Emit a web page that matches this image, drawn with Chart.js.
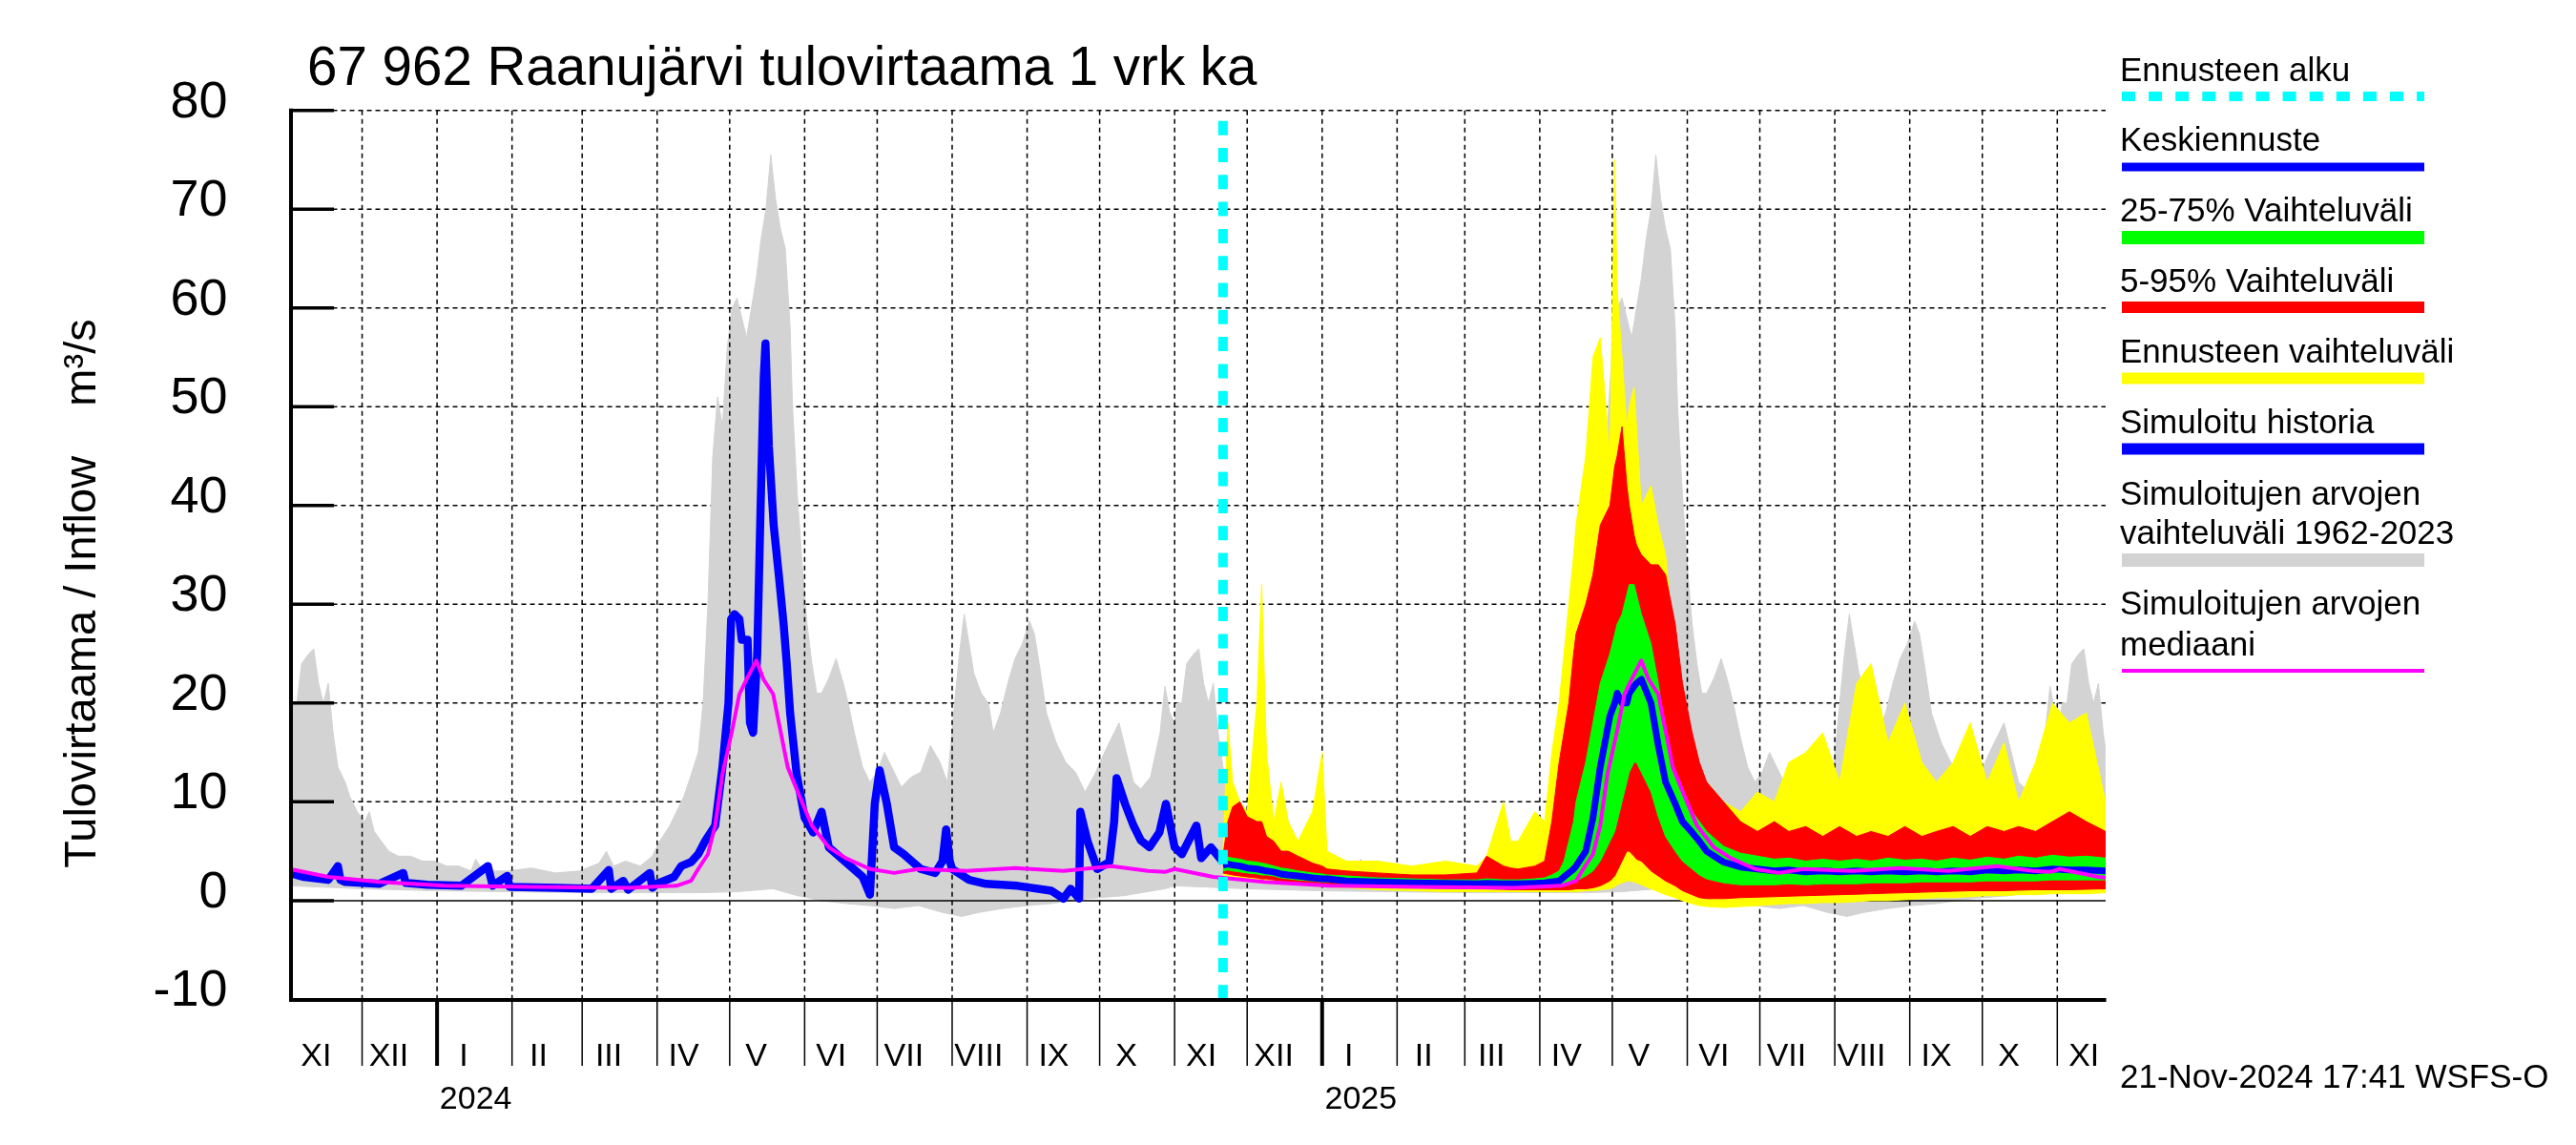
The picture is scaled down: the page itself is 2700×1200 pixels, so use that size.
<!DOCTYPE html>
<html>
<head>
<meta charset="utf-8">
<script src="https://cdn.jsdelivr.net/npm/chart.js@4.4.1/dist/chart.umd.min.js"></script>
<style>
html,body{margin:0;padding:0;background:#fff;overflow:hidden}
canvas{display:block}
</style>
</head>
<body>
<canvas id="c" width="2700" height="1200" style="width:2700px;height:1200px"></canvas>
<script>
// ---------- text ----------
const TITLE = '67 962 Raanujärvi tulovirtaama 1 vrk ka';
const Y_TITLE = 'Tulovirtaama / Inflow    m³/s';
const STAMP = '21-Nov-2024 17:41 WSFS-O';
const LEGEND_LABELS = [['Ennusteen alku'], ['Keskiennuste'], ['25-75% Vaihteluväli'], ['5-95% Vaihteluväli'],
  ['Ennusteen vaihteluväli'], ['Simuloitu historia'], ['Simuloitujen arvojen', 'vaihteluväli 1962-2023'],
  ['Simuloitujen arvojen', 'mediaani']];

// ---------- axes (x = days since 1 Nov 2023) ----------
const X_MIN = 0, X_MAX = 751;            // 1 Nov 2023 .. 21 Nov 2025
const Y_MIN = -10, Y_MAX = 80, Y_STEP = 10;
const MONTH_STARTS = [0,30,61,92,121,152,182,213,243,274,305,335,366,396,427,458,486,517,547,578,608,639,670,700,731];
const MONTH_LABELS = ['XI','XII','I','II','III','IV','V','VI','VII','VIII','IX','X','XI','XII','I','II','III','IV','V','VI','VII','VIII','IX','X','XI'];
const YEAR_STARTS = [61, 427];
const YEAR_LABELS = ['2024', '2025'];
const FORECAST_START = 386;               // 21 Nov 2024
const CLIM_REPEAT = [0, 366, 732];        // climatology by day since 1 Nov, repeated per year

// ---------- climatology 1962-2023 (day since 1 Nov) ----------
const CLIM_MAX_DAY = [0,1,3,5,8,10,12,14,16,18,20,23,25,28,31,33,35,38,41,45,50,55,60,65,70,75,77,80,90,100,110,120,128,131,134,139,145,150,153,157,160,163,166,169,171,173,175,177,179,181,183,185,187,189,191,193,195,197,199,201,203,205,207,208,210,212,214,216,218,220,223,226,229,231,234,237,240,243,246,249,253,257,261,265,269,272,275,277,279,281,283,286,289,291,294,297,300,303,306,308,310,313,317,321,325,329,333,337,341,343,346,349,352,356,360,362,364];
const CLIM_MAX = [18,20,20,24,25,25.5,22,20,22,17,13.5,12,10.5,9,8,9,7,6,5,4.5,4.5,4,4,3.5,3.5,3,4.2,3,3,3.3,2.8,3,3.8,5,3.5,4,3.5,4.5,6,7.5,9,10.5,12.7,15,20,30,45,51,48,56,60,61,59,57,60,63,67,70,75.5,71,68,66,58,50,41,34,28,24,21,21,22.5,24.5,22,20,16.5,13.5,12,13,15,13.5,11.5,12.5,13,15.7,14,12,20,25,29,26,23,21,20,17,19,22,24.5,26,28.3,27,24,19,16,14,13,11,12.8,15,17,18,15,12,11.3,12.5,17,21.7,19];
const CLIM_MIN_DAY = [0,30,60,90,120,150,170,185,200,210,220,230,240,250,260,270,278,285,295,305,315,330,345,362];
const CLIM_MIN = [1.5,1.2,1.0,0.9,0.8,0.8,0.8,0.9,1.2,0.5,0,-0.3,-0.5,-0.8,-0.5,-1.2,-1.6,-1.2,-0.8,-0.5,-0.3,0.2,0.5,1.2];
const CLIM_MED_DAY = [0,16,37,64,100,140,160,166,169,173,176,179,183,186,189,193,196,200,203,206,211,216,223,230,240,250,260,280,300,320,340,355,362];
const CLIM_MED = [3.2,2.4,1.9,1.5,1.4,1.3,1.5,2,3.2,4.7,7.6,12.8,17.2,20.9,22.4,24.3,22.4,20.9,17.2,13.5,10.5,7.6,5.4,4.3,3.2,2.8,3.2,3.0,3.3,3.0,3.5,3.0,2.9];

// ---------- simulated history ----------
const HIST_DAY = [0,6,16,20,21,23,37,47,48,57,71,82,84,90,91,111,125,132,133,138,140,149,150,152,159,162,166,169,172,176,179,181.5,182.6,184,186,187,189.4,190.4,191.7,193.4,194.8,196.1,196.8,198.2,200.2,202.3,204.3,205.6,207,209.7,213,216.5,220,223,230,237,240,242,244,247,250,254,261,267,270,271.5,273,274,281,288,301,315,320,323,326.5,327,330,334,339,341,342,345.5,349,352,355.6,359.7,362.4,366,369,375,377,381,386];
const HIST = [2.8,2.4,2.1,3.5,2.1,1.9,1.7,2.8,1.8,1.6,1.5,3.5,1.5,2.5,1.4,1.3,1.2,3.1,1.2,2,1.1,2.8,1.3,1.7,2.4,3.5,3.9,4.7,6.1,7.6,13.5,20,28.5,29,28.5,26.4,26.4,18,17,25,40,53,56.4,46,38,33,28,24,19,12.8,8.4,6.9,9,5.4,3.9,2.4,0.6,9.8,13.2,9.8,5.4,4.7,3.2,2.8,4,7.2,4,3.2,2.1,1.7,1.5,1.0,0.2,1.2,0.2,9,6,3.2,3.9,8,12.4,9.8,7.6,6.1,5.4,6.9,9.8,5.4,4.7,7.6,4.3,5.4,3.9];

// ---------- forecast ----------
const FC_DAY = [386,388,390,393,396,400,402,404,407,410,413,417,423,427,429,437,450,464,478,491,495,502,505,508,515,519,522,525,527,529,531,532,536,539,542,546,548,549,551,553,554,556,557,559,563,566,569,573,576,580,583,586,593,600,607,614,620,627,634,641,648,654,661,668,675,681,688,695,702,709,715,722,729,736,743,751];
const YELLOW_MAX = [5,18,12,10,9,20,32,15,8,12,8,6,9,15,5,4,4,3.5,4,3.5,4.5,10,6,6,9,8,15,20,25,30,35,38,45,55,57,45,75,62,55,48,50,52,48,40,42,38,35,25,20,15,13,12,10,9,11,10,14,15,17,12,22,24,16,20,14,12,14,18,12,16,10,14,20,18,19,10];
const YELLOW_MIN = [2.6,2.5,2.4,2.3,2.2,2.1,2.0,2.0,1.9,1.8,1.7,1.6,1.5,1.4,1.4,1.3,1.1,1.0,0.9,0.9,0.9,0.9,0.9,0.9,0.9,0.9,0.9,0.9,0.9,0.9,0.9,0.9,1.0,1.0,1.1,1.2,1.4,1.6,1.8,2.0,2.0,1.9,1.8,1.6,1.2,0.9,0.6,0.3,0,-0.3,-0.5,-0.6,-0.7,-0.6,-0.5,-0.4,-0.3,-0.3,-0.2,-0.2,-0.1,0,0,0.1,0.2,0.3,0.3,0.4,0.5,0.5,0.6,0.6,0.7,0.7,0.7,0.8];
const RED_HI = [4.5,8,9.5,10,8.5,8,8,6.5,6,5,5,4.5,3.8,3.5,3.2,3,2.8,2.6,2.6,2.8,4.5,3.5,3.3,3.2,3.5,4,8,14,17,20,25,27,30,33,38,40,44,45,48,42,40,37,36,35,34,34,33,28,22,17,14,12,10,8,7,8,7,7.5,6.5,7.5,6.5,7,6.5,7.5,6.5,7,7.5,6.5,7.5,7,7.5,7,8,9,8,7];
const RED_LO = [2.8,2.7,2.6,2.5,2.4,2.3,2.2,2.2,2.1,2.0,1.9,1.9,1.8,1.7,1.7,1.6,1.45,1.3,1.25,1.2,1.2,1.15,1.1,1.1,1.1,1.1,1.1,1.1,1.1,1.1,1.15,1.2,1.2,1.3,1.5,2,2.5,3,4,5,5,4.5,4.2,4,3,2.5,2,1.5,1.0,0.6,0.3,0.2,0.2,0.3,0.35,0.4,0.45,0.5,0.55,0.6,0.65,0.7,0.75,0.8,0.85,0.9,0.95,1.0,1.0,1.0,1.05,1.1,1.1,1.1,1.15,1.2];
const GREEN_HI = [4.2,4.4,4.3,4.2,4.0,3.9,3.8,3.7,3.5,3.3,3.2,3.0,2.8,2.7,2.6,2.5,2.3,2.2,2.1,2.1,2.2,2.1,2.1,2.1,2.2,2.3,2.6,3.0,4.0,6.0,8.0,10,14,18,22,25,27,28,29,31,32,32,31,29,26,22,17,13,11,9,8,7,5.5,4.8,4.5,4.2,4.3,4.0,4.2,4.0,4.2,4.0,4.3,4.1,4.2,4.0,4.3,4.1,4.4,4.2,4.5,4.3,4.6,4.4,4.5,4.3];
const GREEN_LO = [3.0,3.1,3.0,2.9,2.8,2.7,2.6,2.6,2.5,2.3,2.2,2.1,2.0,1.9,1.9,1.8,1.7,1.6,1.55,1.5,1.5,1.5,1.5,1.5,1.5,1.5,1.55,1.6,1.7,1.8,1.9,2.0,2.5,3,4,6,7,8,10,12,13,14,14,13,11,8.5,6.5,5,4,3.2,2.6,2.2,1.8,1.6,1.6,1.6,1.7,1.6,1.7,1.7,1.7,1.8,1.8,1.8,1.9,1.9,1.9,1.9,2.0,2.0,2.0,2.0,2.1,2.1,2.1,2.1];
const MEAN = [3.6,3.7,3.6,3.5,3.3,3.2,3.1,3.0,2.9,2.7,2.6,2.5,2.3,2.2,2.2,2.0,1.9,1.8,1.75,1.7,1.75,1.7,1.7,1.7,1.75,1.8,1.9,2.0,2.4,2.8,3.2,3.5,5,8.4,13.5,18.7,20,21,20,20,21,21.7,22,22.4,20,15.7,12,9.8,8,6.9,6,5,3.9,3.4,3.2,3.0,3.1,2.9,3.0,2.9,3.0,2.9,3.0,2.9,3.0,2.9,3.0,2.9,3.1,3.0,3.1,3.0,3.2,3.1,3.1,3.0];

// ---------- styles ----------
const FONT = "'Liberation Sans', Arial, Helvetica, sans-serif";
const C_GRAY = '#D3D3D3', C_YEL = '#FFFF00', C_RED = '#FF0000', C_GRN = '#00FF00',
      C_BLUE = '#0000FF', C_MAG = '#FF00FF', C_CYAN = '#00FFFF';

function pts(days, vals) { return days.map((d, i) => ({x: d, y: vals[i]})); }
function clim(days, vals) {
  const out = [];
  for (const off of CLIM_REPEAT) {
    for (let i = 0; i < days.length; i++) {
      const xv = days[i] + off;
      if (xv <= X_MAX + 25) out.push({x: xv, y: vals[i]});
    }
  }
  return out;
}
function band(data, color, fill, order) {
  return {data, borderColor: color, backgroundColor: color, borderWidth: 1, fill, order, pointRadius: 0};
}

const datasets = [
  band(clim(CLIM_MAX_DAY, CLIM_MAX), C_GRAY, 1, 100),
  band(clim(CLIM_MIN_DAY, CLIM_MIN), C_GRAY, false, 99),
  band(pts(FC_DAY, YELLOW_MAX), C_YEL, 3, 90),
  band(pts(FC_DAY, YELLOW_MIN), C_YEL, false, 89),
  band(pts(FC_DAY, RED_HI), C_RED, 5, 80),
  band(pts(FC_DAY, RED_LO), C_RED, false, 79),
  band(pts(FC_DAY, GREEN_HI), C_GRN, 7, 70),
  band(pts(FC_DAY, GREEN_LO), C_GRN, false, 69),
  {data: pts(FC_DAY, MEAN), borderColor: C_BLUE, borderWidth: 7, fill: false, order: 60, pointRadius: 0, borderJoinStyle: 'round'},
  {data: pts(HIST_DAY, HIST), borderColor: C_BLUE, borderWidth: 8.5, fill: false, order: 50, pointRadius: 0, borderJoinStyle: 'round'},
  {data: clim(CLIM_MED_DAY, CLIM_MED), borderColor: C_MAG, borderWidth: 4, fill: false, order: 40, pointRadius: 0, borderJoinStyle: 'round'}
];
const GRAY_LO_INDEX = 1;

const decor = {
  id: 'decor',
  beforeDatasetsDraw(chart) {
    const {ctx, chartArea: a, scales: {y}} = chart;
    ctx.save();
    ctx.strokeStyle = '#000'; ctx.lineWidth = 1.5; ctx.setLineDash([5, 4]);
    for (let v = Y_MIN + Y_STEP; v <= Y_MAX; v += Y_STEP) {
      if (v === 0) continue;
      const py = y.getPixelForValue(v);
      ctx.beginPath(); ctx.moveTo(a.left, py); ctx.lineTo(a.right, py); ctx.stroke();
    }
    ctx.restore();
  },
  afterDatasetDraw(chart, args) {
    if (args.index !== GRAY_LO_INDEX) return;
    const {ctx, chartArea: a, scales: {x, y}} = chart;
    ctx.save();
    ctx.strokeStyle = '#000'; ctx.lineWidth = 1.5; ctx.setLineDash([5, 4]);
    for (const d of MONTH_STARTS) {
      if (d <= X_MIN) continue;
      const px = x.getPixelForValue(d);
      ctx.beginPath(); ctx.moveTo(px, a.top); ctx.lineTo(px, a.bottom); ctx.stroke();
    }
    ctx.setLineDash([]);
    const p0 = y.getPixelForValue(0);
    ctx.beginPath(); ctx.moveTo(a.left, p0); ctx.lineTo(a.right, p0); ctx.stroke();
    ctx.restore();
  },
  afterDatasetsDraw(chart) {
    const {ctx, chartArea: a, scales: {x, y}} = chart;
    ctx.save();
    // forecast start
    const fx = x.getPixelForValue(FORECAST_START);
    ctx.strokeStyle = C_CYAN; ctx.lineWidth = 10; ctx.setLineDash([15, 13.3]);
    ctx.beginPath(); ctx.moveTo(fx, a.top + 11); ctx.lineTo(fx, a.bottom); ctx.stroke();
    ctx.setLineDash([]);
    // axes
    ctx.strokeStyle = '#000'; ctx.lineWidth = 4;
    const ax = a.left + 1.5, by = a.bottom + 0.6;
    ctx.beginPath(); ctx.moveTo(ax, a.top - 2); ctx.lineTo(ax, by + 2); ctx.stroke();
    ctx.beginPath(); ctx.moveTo(ax - 2, by); ctx.lineTo(a.right + 0.6, by); ctx.stroke();
    // y tick marks (inside)
    ctx.lineWidth = 3.5;
    for (let v = Y_MIN + Y_STEP; v <= Y_MAX; v += Y_STEP) {
      const py = y.getPixelForValue(v);
      ctx.beginPath(); ctx.moveTo(ax, py); ctx.lineTo(ax + 45, py); ctx.stroke();
    }
    // month ticks below axis
    for (const d of MONTH_STARTS) {
      if (d <= X_MIN) continue;
      const px = x.getPixelForValue(d);
      ctx.lineWidth = YEAR_STARTS.includes(d) ? 4 : 1.5;
      ctx.beginPath(); ctx.moveTo(px, by); ctx.lineTo(px, by + 69); ctx.stroke();
    }
    ctx.restore();
  },
  afterDraw(chart) {
    const ctx = chart.ctx;
    ctx.save();
    ctx.fillStyle = '#000'; ctx.textBaseline = 'alphabetic'; ctx.textAlign = 'left';
    ctx.font = `56.5px ${FONT}`;
    ctx.fillText(TITLE, 322, 89);
    ctx.font = `35px ${FONT}`;
    ctx.fillText(STAMP, 2222, 1140);
    // y title
    ctx.save();
    ctx.translate(100, 622); ctx.rotate(-Math.PI / 2);
    ctx.textAlign = 'center'; ctx.font = `47px ${FONT}`;
    ctx.fillText(Y_TITLE, 0, 0);
    ctx.restore();
    // legend
    const L = [
      {c: C_CYAN, w: 10, ly: 101, ty: [85], dash: [14, 14.1]},
      {c: C_BLUE, w: 9, ly: 175, ty: [158]},
      {c: C_GRN, w: 14, ly: 249, ty: [232]},
      {c: C_RED, w: 12, ly: 322, ty: [306]},
      {c: C_YEL, w: 12, ly: 396.5, ty: [380]},
      {c: C_BLUE, w: 12, ly: 470.5, ty: [454]},
      {c: C_GRAY, w: 14, ly: 587, ty: [529, 570]},
      {c: C_MAG, w: 4, ly: 703, ty: [644, 687]}
    ];
    ctx.font = `35px ${FONT}`;
    L.forEach((it, i) => {
      LEGEND_LABELS[i].forEach((t, j) => ctx.fillText(t, 2222, it.ty[j]));
      ctx.strokeStyle = it.c; ctx.lineWidth = it.w; ctx.setLineDash(it.dash || []);
      ctx.beginPath(); ctx.moveTo(2224, it.ly); ctx.lineTo(2541, it.ly); ctx.stroke();
    });
    ctx.restore();
  }
};

Chart.defaults.font.family = FONT;
new Chart(document.getElementById('c'), {
  type: 'line',
  data: {datasets},
  options: {
    responsive: false,
    animation: false,
    devicePixelRatio: 1,
    layout: {padding: {top: 115.7, right: 493, bottom: 0, left: 0}},
    elements: {line: {tension: 0}, point: {radius: 0}},
    plugins: {legend: {display: false}, tooltip: {enabled: false}, title: {display: false}},
    scales: {
      x: {
        type: 'linear', position: 'bottom', weight: 0, min: X_MIN, max: X_MAX,
        grid: {display: false, drawTicks: false}, border: {display: false},
        afterBuildTicks: s => { s.ticks = MONTH_STARTS.map(d => ({value: d + 11})); },
        afterFit: s => { s.height = 80; },
        ticks: {autoSkip: false, maxRotation: 0, minRotation: 0, padding: 38.5, color: '#000',
          font: {family: FONT, size: 34, lineHeight: 1.3}, callback: (v, i) => MONTH_LABELS[i]}
      },
      x2: {
        type: 'linear', position: 'bottom', weight: 1, min: X_MIN, max: X_MAX,
        grid: {display: false, drawTicks: false}, border: {display: false},
        afterBuildTicks: s => { s.ticks = YEAR_STARTS.map(d => ({value: d + 16})); },
        afterFit: s => { s.height = 72.6; },
        ticks: {autoSkip: false, maxRotation: 0, minRotation: 0, padding: 3, color: '#000',
          font: {family: FONT, size: 34, lineHeight: 1.3}, callback: (v, i) => YEAR_LABELS[i]}
      },
      y: {
        type: 'linear', position: 'left', min: Y_MIN, max: Y_MAX,
        grid: {display: false, drawTicks: false}, border: {display: false},
        afterFit: s => { s.width = 303.5; },
        ticks: {stepSize: Y_STEP, padding: 65, labelOffset: -8, color: '#000', font: {family: FONT, size: 54}}
      }
    }
  },
  plugins: [decor]
});
</script>
</body>
</html>
